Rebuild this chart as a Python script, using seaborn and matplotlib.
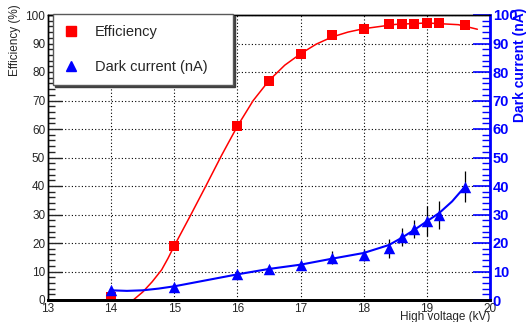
"""Efficacité et courant d'obscurité en fonction de la haute tension."""

import matplotlib
matplotlib.use("Agg")
import matplotlib.pyplot as plt
from matplotlib.ticker import MultipleLocator
import pandas as pd
import seaborn as sns

# mesures
hv_kv = [14.0, 15.0, 16.0, 16.5, 17.0, 17.5, 18.0, 18.4, 18.6, 18.8, 19.0, 19.2, 19.6]
efficiency = [1.0, 18.9, 61.0, 77.0, 86.3, 93.0, 95.1, 96.7, 96.9, 97.0, 97.1, 97.2, 96.4]
dark_current = [3.5, 4.7, 9.1, 10.8, 12.3, 14.9, 15.8, 18.1, 22.0, 24.9, 27.8, 29.8, 39.8]
dark_err = [0.5, 0.8, 1.0, 1.0, 1.3, 2.2, 2.0, 3.2, 3.1, 3.2, 5.3, 5.0, 5.3]

# courbes d'ajustement
eff_fit_kv = [14.35, 14.5, 14.65, 14.8, 14.9, 15.0, 15.25, 15.5, 15.75, 16.0,
              16.25, 16.5, 16.75, 17.0, 17.25, 17.5, 17.75, 18.0, 18.5, 19.0,
              19.5, 19.8]
eff_fit = [0.0, 2.8, 6.4, 10.6, 14.6, 19.0, 29.4, 40.0, 50.8, 61.0,
           70.0, 77.0, 82.4, 86.4, 89.8, 92.3, 94.0, 95.2, 96.7, 97.2,
           96.6, 95.0]
dark_fit_kv = [14.0, 14.25, 14.5, 14.75, 15.0, 15.5, 16.0, 16.5, 17.0, 17.5,
               18.0, 18.4, 18.6, 18.8, 19.0, 19.2, 19.4, 19.6]
dark_fit = [3.4, 3.2, 3.4, 4.0, 4.8, 6.9, 9.0, 10.9, 12.4, 14.5,
            16.5, 19.3, 21.8, 24.6, 27.6, 30.6, 34.6, 39.7]

BLUE = "#0000ff"
RED = "#ff0000"

sns.set_style("white")
plt.rcParams["font.family"] = ["Liberation Sans", "DejaVu Sans"]

points = pd.DataFrame({"hv": hv_kv, "eff": efficiency,
                       "dark": dark_current, "err": dark_err})
eff_curve = pd.DataFrame({"hv": eff_fit_kv, "eff": eff_fit})
dark_curve = pd.DataFrame({"hv": dark_fit_kv, "dark": dark_fit})

fig = plt.figure(figsize=(5.26, 3.22), dpi=100)
ax = fig.add_axes([48 / 526, 22 / 322, 442 / 526, 285 / 322])
ax2 = ax.twinx()

ax.grid(True, which="major", color="black", linestyle=(0, (1, 2)), linewidth=0.8)
ax.set_axisbelow(True)

sns.lineplot(data=eff_curve, x="hv", y="eff", color=RED, linewidth=1.1,
             sort=False, ax=ax, legend=False)
sns.scatterplot(data=points, x="hv", y="eff", marker="s", s=52, color=RED,
                edgecolor=RED, linewidth=0, ax=ax, zorder=3)

sns.lineplot(data=dark_curve, x="hv", y="dark", color=BLUE, linewidth=1.5,
             sort=False, ax=ax2, legend=False)
ax2.errorbar(points["hv"], points["dark"], yerr=points["err"], fmt="none",
             ecolor="black", elinewidth=0.9, capsize=0, zorder=2)
sns.scatterplot(data=points, x="hv", y="dark", marker="^", s=68, color=BLUE,
                edgecolor=BLUE, linewidth=0, ax=ax2, zorder=3)

for a in (ax, ax2):
    a.set_xlim(13, 20)
    a.set_ylim(0, 100)
    a.set_xlabel("")
    a.set_ylabel("")
    a.yaxis.set_major_locator(MultipleLocator(10))
    a.yaxis.set_minor_locator(MultipleLocator(2))

ax.xaxis.set_major_locator(MultipleLocator(1))
ax.xaxis.set_minor_locator(MultipleLocator(0.2))

ax.tick_params(axis="x", which="major", direction="in", length=8, width=1.2,
               labelsize=8.5, pad=2, top=False)
ax.tick_params(axis="x", which="minor", direction="in", length=4, width=1.0, top=False)
ax.tick_params(axis="y", which="major", direction="in", length=10, width=1.0,
               labelsize=8.5, pad=2, right=False)
ax.tick_params(axis="y", which="minor", direction="in", length=5, width=1.0, right=False)

ax2.tick_params(axis="y", which="major", direction="in", length=12, width=1.2,
                colors=BLUE, labelsize=10.5, pad=2, left=False)
ax2.tick_params(axis="y", which="minor", direction="in", length=6, width=1.0,
                colors=BLUE, left=False)
for lbl in ax2.get_yticklabels():
    lbl.set_fontweight("bold")

for a in (ax, ax2):
    for s in a.spines.values():
        s.set_visible(True)
        s.set_color("black")
        s.set_linewidth(1.0)
    a.spines["bottom"].set_linewidth(2.0)
ax2.spines["right"].set_color(BLUE)
ax2.spines["right"].set_linewidth(2.0)
ax.spines["right"].set_visible(False)

# légende
handles = [
    plt.Line2D([], [], marker="s", color=RED, linestyle="none", markersize=7.5),
    plt.Line2D([], [], marker="^", color=BLUE, linestyle="none", markersize=7.5),
]
leg = ax2.legend(handles, ["Efficiency", "Dark current (nA)"],
                 loc="upper left", bbox_to_anchor=(5 / 442, 1.004, 180 / 442, 0),
                 mode="expand", fontsize=10.5, frameon=True, fancybox=False,
                 borderpad=0.75, labelspacing=1.45, handlelength=1.0,
                 handletextpad=1.1, borderaxespad=0,
                 shadow={"ox": 1.5, "oy": -1.5, "color": "0.25", "alpha": 1})
leg.get_frame().set_edgecolor("0.35")
leg.get_frame().set_linewidth(1.0)
leg.set_zorder(10)

fig.text(15 / 526, 1 - 4 / 322, "Efficiency (%)", rotation=90,
         ha="center", va="top", fontsize=8.5)
fig.text(520 / 526, 1 - 8 / 322, "Dark current (nA)", rotation=90,
         ha="center", va="top", fontsize=10, color=BLUE, fontweight="bold")
fig.text(490 / 526, 1 - 311 / 322, "High voltage (kV)",
         ha="right", va="top", fontsize=8.5)

fig.savefig("out.png", dpi=100)
